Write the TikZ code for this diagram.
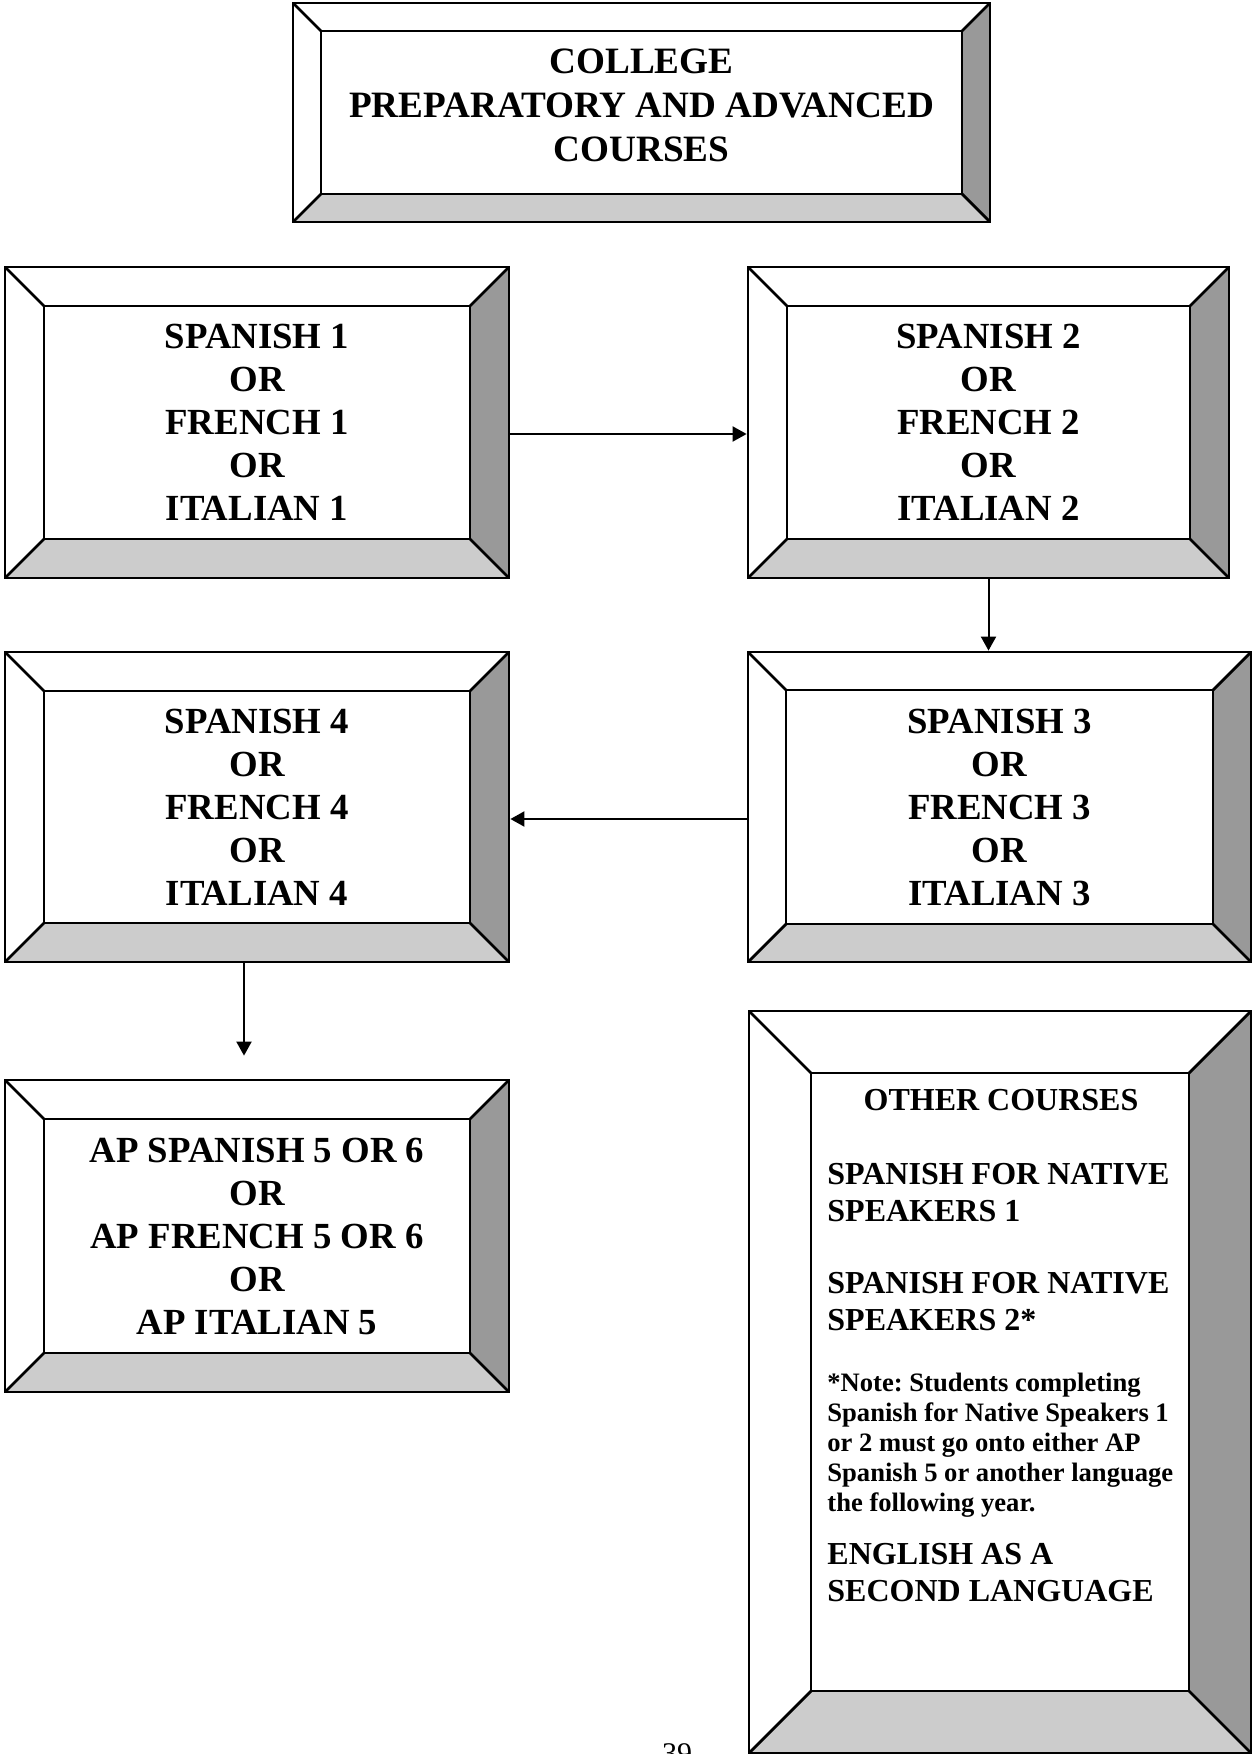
\documentclass[tikz,border=0pt]{standalone}
\usepackage{fontspec}
\setmainfont{Liberation Serif}
\usetikzlibrary{arrows.meta}

\definecolor{sidegray}{gray}{0.6}
\definecolor{floorgray}{gray}{0.8}

\tikzset{
    bevel width/.store in=\bevelwd,
    bevel width=19.5pt,
    bevelbox/.style={draw, line width=1.4pt, inner sep=0pt, align=center,
        font=\fontsize{18.4}{21.5}\selectfont\bfseries,
        path picture={
            % outer and inner corners of the frame
            \coordinate (o-nw) at (path picture bounding box.north west);
            \coordinate (o-ne) at (path picture bounding box.north east);
            \coordinate (o-sw) at (path picture bounding box.south west);
            \coordinate (o-se) at (path picture bounding box.south east);
            \coordinate (i-nw) at ([xshift=\bevelwd,yshift=-\bevelwd]o-nw);
            \coordinate (i-ne) at ([xshift=-\bevelwd,yshift=-\bevelwd]o-ne);
            \coordinate (i-sw) at ([xshift=\bevelwd,yshift=\bevelwd]o-sw);
            \coordinate (i-se) at ([xshift=-\bevelwd,yshift=\bevelwd]o-se);
            % shaded sides
            \fill[sidegray] (o-ne) -- (o-se) -- (i-se) -- (i-ne) -- cycle;
            \fill[floorgray] (o-sw) -- (o-se) -- (i-se) -- (i-sw) -- cycle;
            \draw[line width=1.4pt] (i-nw) rectangle (i-se);
            \draw[line width=1.4pt] (o-nw) -- (i-nw) (o-ne) -- (i-ne)
                (o-sw) -- (i-sw) (o-se) -- (i-se);
        }},
    othertext/.style={inner sep=0pt, align=left,
        font=\fontsize{16}{18.5}\selectfont\bfseries},
    notetext/.style={inner sep=0pt, align=left,
        font=\fontsize{13.3}{15}\selectfont\bfseries\frenchspacing},
    flow/.style={line width=1pt, -{Triangle[width=7.5pt,length=7pt]}}
}

\begin{document}
\begin{tikzpicture}[x=0.5pt, y=-0.5pt]
    \useasboundingbox (0,0) rectangle (1253,1754);

    % Define nodes
    \node[bevelbox, bevel width=14pt, minimum width=348.5pt, minimum height=109.5pt] (title) at (641.5,112.5) {};
    \node[inner sep=0pt, align=center, font=\fontsize{18.6}{22}\selectfont\bfseries] (titletext) at (641.5,105)
        {COLLEGE\\PREPARATORY AND ADVANCED\\COURSES};

    \node[bevelbox, minimum width=252pt, minimum height=155.5pt] (sp1) at (257,422.5)
        {SPANISH 1\\OR\\FRENCH 1\\OR\\ITALIAN 1};
    \node[bevelbox, minimum width=240.5pt, minimum height=155.5pt] (sp2) at (988.5,422.5)
        {SPANISH 2\\OR\\FRENCH 2\\OR\\ITALIAN 2};
    \node[bevelbox, bevel width=19pt, minimum width=251.5pt, minimum height=155pt] (sp3) at (999.5,807)
        {SPANISH 3\\OR\\FRENCH 3\\OR\\ITALIAN 3};
    \node[bevelbox, minimum width=252pt, minimum height=155pt] (sp4) at (257,807)
        {SPANISH 4\\OR\\FRENCH 4\\OR\\ITALIAN 4};
    \node[bevelbox, minimum width=252pt, minimum height=156pt] (ap) at (257,1236)
        {AP SPANISH 5 OR 6\\OR\\AP FRENCH 5 OR 6\\OR\\AP ITALIAN 5};

    \node[bevelbox, bevel width=31pt, minimum width=251pt, minimum height=371pt] (other) at (1000,1382) {};
    \node[othertext, anchor=north] (otherhead) at (1001,1089) {OTHER COURSES};
    \node[othertext, anchor=north west] (native1) at (827,1163) {SPANISH FOR NATIVE\\SPEAKERS 1};
    \node[othertext, anchor=north west] (native2) at (827,1272) {SPANISH FOR NATIVE\\SPEAKERS 2*};
    \node[notetext, anchor=north west] (note) at (827,1373)
        {*Note: Students completing\\Spanish for Native Speakers 1\\or 2 must go onto either AP\\Spanish 5 or another language\\the following year.};
    \node[othertext, anchor=north west] (esl) at (827,1543) {ENGLISH AS A\\SECOND LANGUAGE};

    \node[inner sep=0pt, anchor=base, font=\fontsize{15}{18}\selectfont] (pagenum) at (677,1763) {39};

    % Draw arrows
    \draw[flow] ([yshift=-5.75pt]sp1.east) -- ([yshift=-5.75pt]sp2.west);
    \draw[flow] (sp2.south) -- (sp2.south |- sp3.north);
    \draw[flow] ([yshift=-6pt]sp3.west) -- ([yshift=-6pt]sp4.east);
    \draw[flow] ([xshift=-6.5pt]sp4.south) -- ([xshift=-6.5pt,yshift=11.5pt]ap.north);

\end{tikzpicture}
\end{document}
